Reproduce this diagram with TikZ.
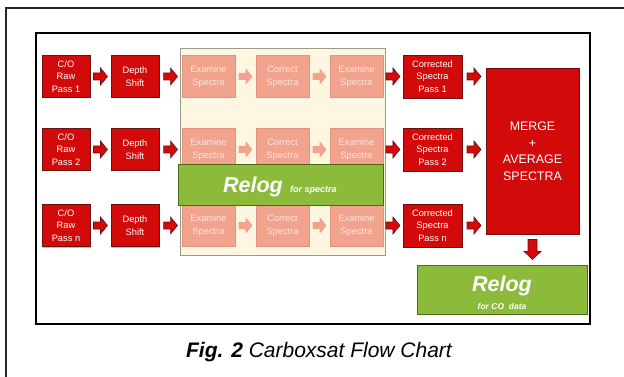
\documentclass[tikz,border=0pt]{standalone}
\usepackage{fontspec}
\setmainfont{Liberation Sans}
\usetikzlibrary{shadows,calc}
\definecolor{redfill}{HTML}{D20A0A}
\definecolor{redline}{HTML}{6E1010}
\definecolor{palefill}{HTML}{F1A38E}
\definecolor{paleline}{HTML}{DE947F}
\definecolor{paletext}{HTML}{FCE6DE}
\definecolor{beige}{HTML}{FDF7E2}
\definecolor{beigeline}{HTML}{9C9A8C}
\definecolor{greenfill}{HTML}{8CBA3A}
\definecolor{greenline}{HTML}{4B6A1C}
\tikzset{
  redbox/.style={rectangle, fill=redfill, draw=redline, line width=0.8pt, text=white,
    align=center, inner sep=0pt, minimum height=42pt,
    font=\fontsize{9.3}{12.5}\selectfont,
    drop shadow={shadow xshift=1pt, shadow yshift=-1pt, fill=black!45, opacity=0.6}},
  palebox/.style={rectangle, fill=palefill, draw=paleline, line width=0.6pt, text=paletext,
    align=center, inner sep=0pt, minimum width=53pt, minimum height=42pt,
    font=\fontsize{9.3}{12.5}\selectfont},
  greenbox/.style={rectangle, fill=greenfill, draw=greenline, line width=1pt, text=white,
    align=center, inner sep=0pt,
    drop shadow={shadow xshift=1pt, shadow yshift=-1pt, fill=black!45, opacity=0.6}},
  redarrow/.style={fill=redfill, draw=redline, line width=0.6pt, line join=miter},
  palearrow/.style={fill=palefill, draw=none},
  relogfont/.style={font=\fontsize{21.5}{22}\selectfont\bfseries\itshape, text=white, inner sep=0pt},
}
% horizontal block arrow centred between two points
\newcommand{\harrow}[3][redarrow]{%
  \path[#1] let \p1=($(#2)!0.5!(#3)$) in
    ({\x1-7pt},{\y1+3.5pt}) -- ({\x1},{\y1+3.5pt}) -- ({\x1},{\y1+8.5pt}) --
    ({\x1+7pt},{\y1}) -- ({\x1},{\y1-8.5pt}) -- ({\x1},{\y1-3.5pt}) --
    ({\x1-7pt},{\y1-3.5pt}) -- cycle;}
% downward block arrow centred between two points
\newcommand{\varrow}[3][redarrow]{%
  \path[#1] let \p1=($(#2)!0.5!(#3)$) in
    ({\x1-4.5pt},{\y1+10pt}) -- ({\x1-4.5pt},{\y1-2pt}) -- ({\x1-8.5pt},{\y1-2pt}) --
    ({\x1},{\y1-10pt}) -- ({\x1+8.5pt},{\y1-2pt}) -- ({\x1+4.5pt},{\y1-2pt}) --
    ({\x1+4.5pt},{\y1+10pt}) -- cycle;}
\begin{document}
\begin{tikzpicture}[x=1pt,y=-1pt]
\useasboundingbox (0,0) rectangle (624,377);
% frames
\draw[line width=1.3pt, black!85] (624,8) -- (6,8) -- (6,377);
\draw[line width=1.3pt, black] (36,33) rectangle (590,324);
% beige panel
\fill[beige] (180,48) rectangle (385,255);
\draw[beigeline, line width=0.8pt] (180,48) rectangle (385,255);

\foreach \r/\y/\p in {1/76.5/1, 2/149.5/2, 3/225.5/n}{
  \node[redbox, minimum width=48pt] (raw\r) at (66,\y) {C/O\\Raw\\Pass \p};
  \node[redbox, minimum width=48pt] (dep\r) at (135,\y) {Depth\\Shift};
  \node[palebox] (exa\r) at (208.5,\y) {Examine\\Spectra};
  \node[palebox] (cor\r) at (282.5,\y) {Correct\\Spectra};
  \node[palebox] (exb\r) at (356.5,\y) {Examine\\Spectra};
  \node[redbox, minimum width=59pt, minimum height=43pt] (out\r) at (432.5,\y) {Corrected\\Spectra\\Pass \p};
  \harrow{raw\r.east}{dep\r.west}
  \harrow{dep\r.east}{exa\r.west}
  \harrow[palearrow]{exa\r.east}{cor\r.west}
  \harrow[palearrow]{cor\r.east}{exb\r.west}
  \harrow{exb\r.east}{out\r.west}
}
% relog for spectra
\node[greenbox, minimum width=205pt, minimum height=40pt] (relogs) at (280.5,185) {};
\node[relogfont, anchor=base] (relogst) at (253,193)
  {Relog};
\node[anchor=base west, inner sep=0pt, text=white, font=\fontsize{9}{9}\selectfont\bfseries\itshape]
  (relogss) at (290,193) {for spectra};
% merge
\node[redbox, minimum width=93pt, minimum height=166pt,
  font=\fontsize{12.4}{16.5}\selectfont] (merge) at (532.5,151)
  {MERGE\\+\\AVERAGE\\SPECTRA};
\foreach \r in {1,2,3}{
  \harrow{out\r.east}{out\r.east -| merge.west}
}
% relog for CO
\node[greenbox, minimum width=170pt, minimum height=49pt] (relogc) at (502,289.5) {};
\node[relogfont, anchor=base] (relogct) at (502,291) {Relog};
\node[anchor=base, inner sep=0pt, text=white, font=\fontsize{8.5}{9}\selectfont\bfseries\itshape]
  (relogcs) at (502,309) {for CO\ \ data};
\varrow{merge.south}{merge.south |- relogc.north}
% caption
\node[anchor=base, inner sep=0pt, font=\fontsize{21}{21}\selectfont\itshape] (cap) at (319,357)
  {\textbf{Fig. 2} Carboxsat Flow Chart};
\end{tikzpicture}
\end{document}
